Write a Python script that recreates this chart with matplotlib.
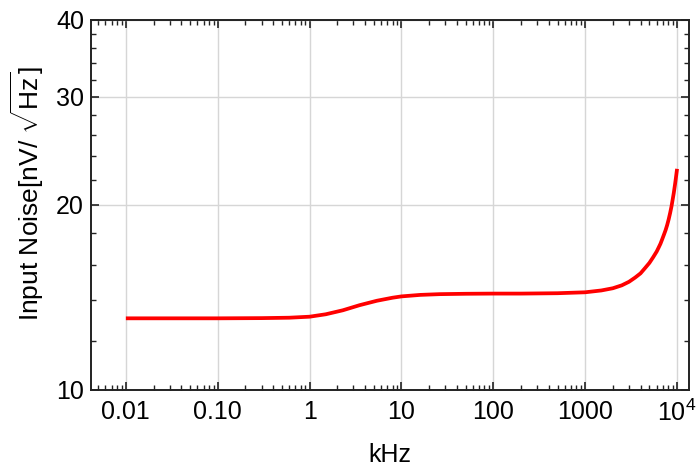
import numpy as np
import matplotlib
matplotlib.use('Agg')
import matplotlib.pyplot as plt
from matplotlib.ticker import FixedLocator, FixedFormatter, LogLocator, NullFormatter

plt.rcParams['font.family'] = ['Liberation Sans', 'DejaVu Sans']
plt.rcParams['mathtext.fontset'] = 'custom'
plt.rcParams['mathtext.rm'] = 'Liberation Sans'
plt.rcParams['mathtext.it'] = 'Liberation Sans'

# 读图得到的数据 (kHz, nV/sqrt(Hz))
freq = [0.01, 0.03, 0.1, 0.3, 0.6, 1, 1.5, 2.3, 3.5, 5.4, 8, 10, 16, 26, 50,
        100, 200, 500, 1000, 1500, 2000, 2500, 3000, 3500, 4000, 4500, 5000,
        5500, 6000, 6300, 6600, 6900, 7200, 7500, 7800, 8100, 8400, 8700,
        8900, 9200, 9500, 9700, 10000]
noise = [13.08, 13.08, 13.08, 13.09, 13.11, 13.16, 13.28, 13.48, 13.74, 13.97,
         14.13, 14.2, 14.28, 14.32, 14.34, 14.35, 14.35, 14.37, 14.42, 14.52,
         14.64, 14.8, 15.0, 15.24, 15.48, 15.8, 16.1, 16.45, 16.8, 17.05,
         17.3, 17.6, 17.9, 18.2, 18.55, 18.95, 19.4, 19.9, 20.3, 20.9, 21.6,
         22.1, 22.9]

x_ticks = [0.01, 0.1, 1, 10, 100, 1000, 10000]
x_labels = ['0.01', '0.10', '1', '10', '100', '1000', r'$10^4$']
y_ticks = [10, 20, 30, 40]
y_labels = ['10', '20', '30', '40']
y_minor = [12, 14, 16, 18, 22, 24, 26, 28, 32, 34, 36, 38]

fig = plt.figure(figsize=(6.96, 4.68), dpi=100)
ax = fig.add_axes([0.1307, 0.1667, 0.8593, 0.7906])

ax.plot(freq, noise, color='red', lw=2.7, solid_capstyle='butt')

ax.set_xscale('log')
ax.set_yscale('log')
ax.set_xlim(0.00417, 13500)
ax.set_ylim(10, 40)

ax.xaxis.set_major_locator(FixedLocator(x_ticks))
ax.xaxis.set_major_formatter(FixedFormatter(x_labels))
ax.xaxis.set_minor_locator(LogLocator(base=10, subs=np.arange(2, 10), numticks=20))
ax.xaxis.set_minor_formatter(NullFormatter())
ax.yaxis.set_major_locator(FixedLocator(y_ticks))
ax.yaxis.set_major_formatter(FixedFormatter(y_labels))
ax.yaxis.set_minor_locator(FixedLocator(y_minor))
ax.yaxis.set_minor_formatter(NullFormatter())

ax.tick_params(which='both', direction='in', top=True, right=True,
               color='#222222', labelsize=18)
ax.tick_params(which='major', length=6, width=1.2)
ax.tick_params(which='minor', length=3.5, width=1.0)
ax.tick_params(axis='x', pad=7)
ax.tick_params(axis='y', pad=5)

for s in ax.spines.values():
    s.set_color('#222222')
    s.set_linewidth(1.4)

ax.grid(True, which='major', color='#d6d6d6', lw=1.0)
ax.set_axisbelow(True)

ax.set_xlabel('kHz', fontsize=18, labelpad=12)
ax.set_ylabel(r'Input Noise[nV/ $\sqrt{\mathrm{Hz}}$]', fontsize=19, labelpad=7)
ax.yaxis.label.set_y(0.53)

fig.savefig('out.png', dpi=100)
